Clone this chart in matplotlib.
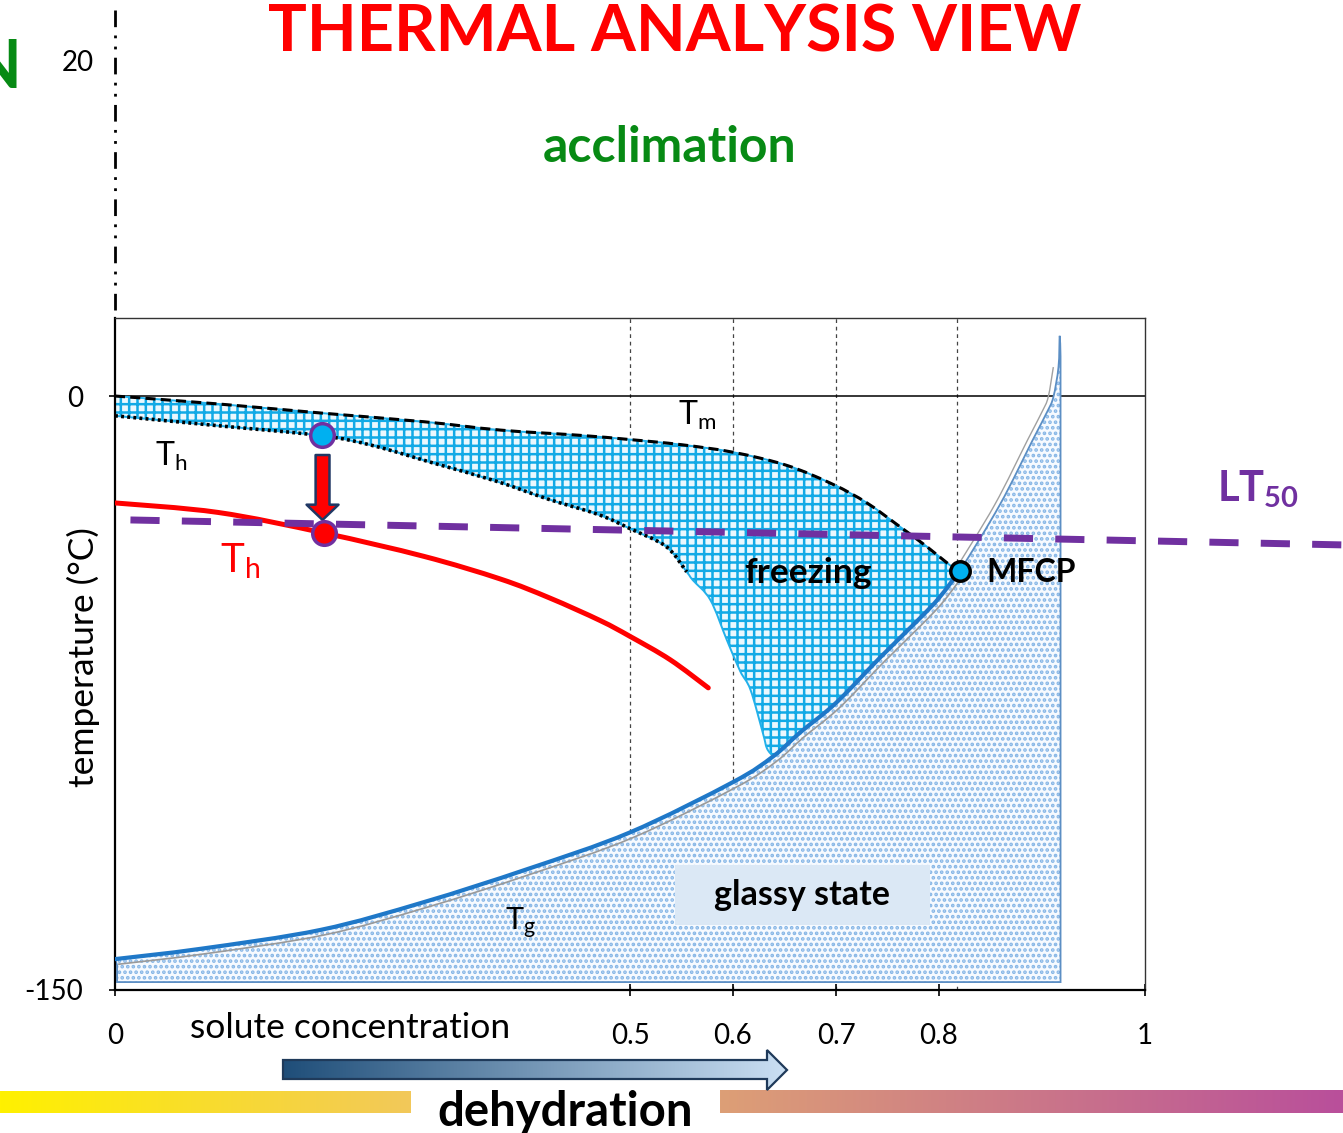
import numpy as np
import matplotlib
matplotlib.use("Agg")
import matplotlib.pyplot as plt
from matplotlib.patches import Polygon, Rectangle, FancyArrowPatch, PathPatch
from matplotlib.path import Path

# ---------------- data (solute concentration, temperature in degC) ----------------
tm_x = [0.0, 0.1, 0.2, 0.3, 0.374, 0.45, 0.5, 0.55, 0.6, 0.652, 0.697, 0.73, 0.762, 0.788, 0.811, 0.82]
tm_y = [0.0, -2.0, -4.3, -6.5, -8.6, -9.9, -11.0, -12.3, -14.2, -17.5, -22.3, -27.0, -33.0, -38.0, -42.8, -44.2]

th_x = [0.0, 0.1, 0.2, 0.25, 0.31, 0.37, 0.42, 0.47, 0.5, 0.535, 0.555]
th_y = [-5.0, -7.5, -10.0, -12.5, -17.0, -21.5, -26.0, -30.0, -33.5, -38.0, -44.4]

edge_x = [0.555, 0.561, 0.578, 0.594, 0.607, 0.617, 0.629, 0.633, 0.639]
edge_y = [-44.4, -46.5, -51.5, -61.6, -69.5, -74.2, -85.1, -89.0, -91.0]

tg_x = [0.0, 0.083, 0.2, 0.3, 0.4, 0.5, 0.6, 0.639, 0.665, 0.7, 0.743, 0.78, 0.8, 0.82]
tg_y = [-142.2, -139.6, -134.8, -127.8, -119.5, -110.2, -97.5, -91.0, -85.0, -77.5, -66.0, -56.5, -51.0, -44.2]

tg_hi_x = [0.82, 0.859, 0.891, 0.905, 0.911, 0.916, 0.9172, 0.918]
tg_hi_y = [-44.2, -27.5, -11.1, -4.0, -0.3, 7.3, 15.2, 10.0]
glass_floor = -148.0

red_th_x = [0.0, 0.1, 0.203, 0.3, 0.374, 0.422, 0.471, 0.5, 0.539, 0.576]
red_th_y = [-27.0, -29.4, -34.6, -40.5, -46.2, -51.0, -56.7, -60.7, -66.6, -73.7]

lt50_x = [0.015, 1.192]
lt50_y = [-31.3, -37.6]

blue_pt = (0.201, -9.8)
red_pt = (0.203, -34.6)
mfcp_pt = (0.82, -44.2)
arrow_from = (0.2015, -14.9)
arrow_to = (0.2015, -31.3)

grid_x = [0.5, 0.6, 0.7, 0.817]
xtick_vals = [0, 0.5, 0.6, 0.7, 0.8, 1]
xtick_labels = ["0", "0.5", "0.6", "0.7", "0.8", "1"]
ytick_vals = [0, -150]
ytick_labels = ["0", "-150"]

# ---------------- style ----------------
plt.rcParams["font.family"] = ["Lato", "DejaVu Sans"]
plt.rcParams["mathtext.fontset"] = "custom"
plt.rcParams["mathtext.rm"] = "Lato"
plt.rcParams["mathtext.it"] = "Lato:italic"
plt.rcParams["mathtext.bf"] = "Lato:bold"
plt.rcParams["hatch.linewidth"] = 1.8

PURPLE = "#7030a0"
CYAN = "#12aae6"


def smooth_segment(x, y, start_code=Path.MOVETO):
    """Cubic Bezier segments (Catmull-Rom tangents) through the given points."""
    pts = np.column_stack([x, y]).astype(float)
    n = len(pts)
    verts = [pts[0]]
    codes = [start_code]
    for i in range(n - 1):
        p0 = pts[i - 1] if i > 0 else pts[i]
        p1, p2 = pts[i], pts[i + 1]
        p3 = pts[i + 2] if i + 2 < n else pts[i + 1]
        verts += [p1 + (p2 - p0) / 6.0, p2 - (p3 - p1) / 6.0, p2]
        codes += [Path.CURVE4] * 3
    return verts, codes


def smooth_path(x, y):
    v, c = smooth_segment(x, y)
    return Path(v, c)


def outline(parts):
    """Closed path made of smooth and straight parts: list of (x, y, smooth)."""
    verts, codes = [], []
    for k, (x, y, smooth) in enumerate(parts):
        first = Path.MOVETO if k == 0 else Path.LINETO
        if smooth:
            v, c = smooth_segment(x, y, first)
        else:
            v = list(np.column_stack([x, y]))
            c = [first] + [Path.LINETO] * (len(v) - 1)
        verts += v
        codes += c
    verts.append(verts[0])
    codes.append(Path.CLOSEPOLY)
    return Path(verts, codes)


W, H = 1343, 1133
fig = plt.figure(figsize=(W / 100, H / 100), dpi=100)
ax = fig.add_axes([115 / W, 1 - 990 / H, (1145 - 115) / W, (990 - 318) / H])
ax.set_xlim(0, 1)
ax.set_ylim(-150, 19.7)

# vertical reference lines and the 0 degC line
ax.vlines(grid_x, -150, 19.7, colors="#444444", linestyles=(0, (3, 3)), lw=0.9, zorder=0.5)
ax.axhline(0, color="black", lw=1.1, zorder=1)

# glassy state region below Tg
tg_full_x = list(tg_x) + list(tg_hi_x[1:])
tg_full_y = list(tg_y) + list(tg_hi_y[1:])
glass_path = outline([
    ([0.002, 0.002], [glass_floor, tg_y[0] - 1.5], False),
    (tg_full_x, tg_full_y, True),
    ([tg_hi_x[-1], tg_hi_x[-1]], [tg_hi_y[-1], glass_floor], False),
])
ax.add_patch(PathPatch(glass_path, facecolor="#f6faff", edgecolor="none", zorder=1.5))
ax.add_patch(PathPatch(glass_path, facecolor="none", edgecolor="#86b6e6", hatch="...", lw=0, zorder=1.6))
ax.add_patch(PathPatch(glass_path, facecolor="none", edgecolor="#5b8ec4", lw=1.3, zorder=1.7))

# freezing region between Tm and the lower boundary
tg_arr_x = np.array(tg_x)
tg_arr_y = np.array(tg_y)
sel = tg_arr_x >= edge_x[-1]
low_x = list(th_x) + list(edge_x[1:])
low_y = list(th_y) + list(edge_y[1:])
freeze_path = outline([
    (tm_x, tm_y, True),
    (tg_arr_x[sel][::-1], tg_arr_y[sel][::-1], True),
    (low_x[::-1], low_y[::-1], True),
])
ax.add_patch(PathPatch(freeze_path, facecolor="#eaf8fe", edgecolor="none", zorder=2))
ax.add_patch(PathPatch(freeze_path, facecolor="none", edgecolor=CYAN, hatch="++", lw=0, zorder=2.1))
ax.add_patch(PathPatch(freeze_path, facecolor="none", edgecolor="#22b0ea", lw=1.4, zorder=2.2))


def curve(x, y, **kw):
    ax.add_patch(PathPatch(smooth_path(x, y), fill=False, **kw))


# curves
curve(np.array(tg_x) + 0.003, np.array(tg_y) - 1.3, edgecolor="#9a9a9a", lw=1.2, zorder=2.5)
curve(np.array(tg_hi_x[:6]) - 0.005, tg_hi_y[:6], edgecolor="#a0a0a0", lw=1.0, zorder=2.5)
curve(tg_x, tg_y, edgecolor="#1f78c8", lw=3.0, zorder=3, capstyle="round")
curve(tm_x, tm_y, edgecolor="black", lw=2.2, linestyle=(0, (3.3, 1.7)), zorder=4)
curve(th_x, th_y, edgecolor="black", lw=2.6, linestyle=(0, (0.8, 0.9)), zorder=4)
curve(red_th_x, red_th_y, edgecolor="#ff0000", lw=3.6, zorder=4, capstyle="round")
ax.plot(lt50_x, lt50_y, color=PURPLE, lw=5, dashes=(4.2, 3.2), zorder=5, clip_on=False)

# arrow and markers
arr = FancyArrowPatch(arrow_from, arrow_to,
                      arrowstyle="simple,head_length=11,head_width=23,tail_width=10",
                      mutation_scale=1, shrinkA=0, shrinkB=0,
                      facecolor="#ff0000", edgecolor="#203864", lw=1.8, zorder=6)
ax.add_patch(arr)
ax.plot(*blue_pt, "o", ms=17, mfc="#00b0f0", mec=PURPLE, mew=2.5, zorder=7)
ax.plot(*red_pt, "o", ms=17, mfc="#ff0000", mec=PURPLE, mew=2.5, zorder=7)
ax.plot(*mfcp_pt, "o", ms=14, mfc="#00b0f0", mec="black", mew=2.5, zorder=7, clip_on=False)

# labels inside the plot
ax.text(0.547, -7.3, r"$\mathregular{T_m}$", fontsize=23, ha="left", va="baseline", zorder=8)
ax.text(0.039, -17.6, r"$\mathregular{T_h}$", fontsize=23, ha="left", va="baseline", zorder=8)
ax.text(0.102, -44.5, r"$\mathregular{T_h}$", fontsize=29, color="#ff0000", ha="left",
        va="baseline", zorder=8)
ax.text(0.379, -134.8, r"$\mathregular{T_g}$", fontsize=22, ha="left", va="baseline", zorder=8)
ax.text(0.673, -47.2, "freezing", fontsize=25.5, fontweight="bold", ha="center", va="baseline", zorder=8)
ax.text(0.846, -47.0, "MFCP", fontsize=23, fontweight="bold", ha="left", va="baseline", zorder=8)
ax.add_patch(Rectangle((0.544, -133.6), 0.247, 15.2, facecolor="#dbe8f5", edgecolor="none", zorder=3))
ax.text(0.667, -126.0, "glassy state", fontsize=24.5, fontweight="bold", ha="center", va="center", zorder=8)
ax.text(1.07, -26.7, r"$\mathbf{LT_{50}}$", fontsize=30, color=PURPLE, ha="left", va="baseline",
        zorder=8, clip_on=False)

# axes styling
ax.set_xticks(xtick_vals, xtick_labels)
ax.set_yticks(ytick_vals, ytick_labels)
ax.tick_params(axis="x", direction="inout", length=8, width=1.2, pad=20, labelsize=20)
ax.tick_params(axis="y", direction="out", length=4, width=1.2, pad=19, labelsize=20)
for side in ["left", "bottom"]:
    ax.spines[side].set_linewidth(1.6)
for side in ["top", "right"]:
    ax.spines[side].set_linewidth(1.0)
    ax.spines[side].set_color("#333333")

# figure-level decorations (pixel coordinates)
ov = fig.add_axes([0, 0, 1, 1])
ov.patch.set_alpha(0)


def hgrad(c0, c1, n=256):
    a = np.array(matplotlib.colors.to_rgb(c0))
    b = np.array(matplotlib.colors.to_rgb(c1))
    t = np.linspace(0, 1, n)[:, None]
    return (a + (b - a) * t)[None, :, :]


ov.imshow(hgrad("#fff100", "#f2c85a"), extent=[0, 411, 1113, 1091], aspect="auto", zorder=1)
ov.imshow(hgrad("#dd9f76", "#b94f9b"), extent=[720, 1343, 1113, 1090], aspect="auto", zorder=1)
arrow_poly = Polygon([(283, 1060), (767, 1060), (767, 1050), (787, 1070), (767, 1090),
                      (767, 1079), (283, 1079)], closed=True, facecolor="none",
                     edgecolor="#1f3a5a", lw=1.6, zorder=3)
ov.add_patch(arrow_poly)
im = ov.imshow(hgrad("#1f4e79", "#cadff3"), extent=[283, 787, 1090, 1050], aspect="auto", zorder=2)
im.set_clip_path(arrow_poly)
ov.plot([115, 115], [10, 316], color="black", lw=2.0, dashes=(6, 3, 1, 3, 1, 3), zorder=3)
ov.set_xlim(0, W)
ov.set_ylim(H, 0)
ov.axis("off")

fig.text(675 / W, 1 - 52 / H, "THERMAL ANALYSIS VIEW", fontsize=46.5, fontweight="bold",
         color="#ff0000", ha="center", va="baseline")
fig.text(670 / W, 1 - 162 / H, "acclimation", fontsize=36, fontweight="bold",
         color="#078a14", ha="center", va="baseline")
fig.text(22 / W, 1 - 88 / H, "N", fontsize=47.5, fontweight="bold", color="#078a14",
         ha="right", va="baseline")
fig.text(78 / W, 1 - 63 / H, "20", fontsize=20, ha="center", va="center")
fig.text(83 / W, 1 - 657 / H, "temperature (°C)", fontsize=25.5, rotation=90, ha="center", va="center")
fig.text(350 / W, 1 - 1028 / H, "solute concentration", fontsize=25.5, ha="center", va="center")
fig.text(565 / W, 1 - 1126 / H, "dehydration", fontsize=34, fontweight="bold", ha="center", va="baseline")

fig.savefig("out.png", dpi=100)
